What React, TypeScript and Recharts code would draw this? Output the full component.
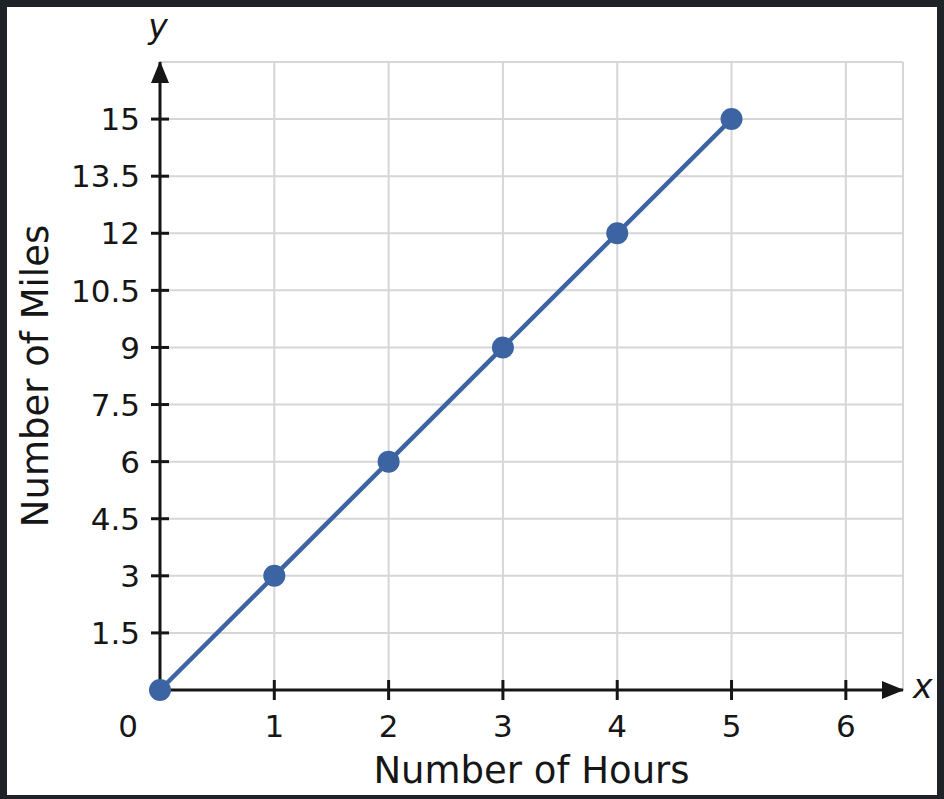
import React from 'react';
import { LineChart, Line, XAxis, YAxis, CartesianGrid, Label } from 'recharts';

// values
const hours = [0, 1, 2, 3, 4, 5];
const miles = [0, 3, 6, 9, 12, 15];
const xTicks = [0, 1, 2, 3, 4, 5, 6];
const yTicks = [1.5, 3, 4.5, 6, 7.5, 9, 10.5, 12, 13.5, 15];
const xDomain = [0, 6.5];
const yDomain = [0, 16.5];
const xTitle = 'Number of Hours';
const yTitle = 'Number of Miles';

const data = hours.map((h, i) => ({ hours: h, miles: miles[i] }));

const INK = '#161616';
const BLUE = '#3d64a2';
const FONT = '"DejaVu Sans", sans-serif';

const XTick = (props: any) => {
  const { x, y, payload } = props;
  const isOrigin = payload.value === 0;
  return (
    <g>
      {!isOrigin && <line x1={x} y1={y - 10} x2={x} y2={y + 10} stroke={INK} strokeWidth={3} />}
      <text x={isOrigin ? x - 32 : x} y={y + 47} textAnchor="middle" fontSize={31} fill={INK} fontFamily={FONT}>
        {payload.value}
      </text>
    </g>
  );
};

const YTick = (props: any) => {
  const { x, y, payload } = props;
  return (
    <g>
      <line x1={x - 9} y1={y} x2={x + 9} y2={y} stroke={INK} strokeWidth={3} />
      <text x={x - 20} y={y} dy="0.36em" textAnchor="end" fontSize={31} fill={INK} fontFamily={FONT}>
        {payload.value}
      </text>
    </g>
  );
};

export default function App() {
  return (
    <div style={{ position: 'absolute', left: 0, top: 0, width: 944, height: 799, background: '#1f2327' }}>
      <div style={{ position: 'absolute', left: 7, top: 7, width: 930, height: 788, background: '#fff' }}>
        <LineChart width={930} height={788} data={data} margin={{ top: 55, right: 34, bottom: 0, left: 0 }}>
          <defs>
            <marker
              id="arrowHead"
              viewBox="0 0 22 18"
              refX="21"
              refY="9"
              markerWidth="22"
              markerHeight="18"
              markerUnits="userSpaceOnUse"
              orient="auto-start-reverse"
            >
              <path d="M0,0 L22,9 L0,18 Z" fill={INK} />
            </marker>
          </defs>
          <CartesianGrid stroke="#d6d6d6" strokeWidth={2} />
          <XAxis
            type="number"
            dataKey="hours"
            domain={xDomain}
            ticks={xTicks}
            interval={0}
            height={105}
            tickSize={0}
            tickMargin={0}
            tickLine={false}
            tick={<XTick />}
            axisLine={{ stroke: INK, strokeWidth: 3, markerEnd: 'url(#arrowHead)' }}
          >
            <Label
              content={(p: any) => (
                <text
                  x={p.viewBox.x + p.viewBox.width / 2}
                  y={p.viewBox.y + 93}
                  textAnchor="middle"
                  fontSize={37}
                  fill={INK}
                  fontFamily={FONT}
                >
                  {xTitle}
                </text>
              )}
            />
            <Label
              content={(p: any) => (
                <text
                  x={p.viewBox.x + p.viewBox.width + 10}
                  y={p.viewBox.y + 8}
                  textAnchor="start"
                  fontSize={33}
                  fontStyle="italic"
                  fill={INK}
                  fontFamily={FONT}
                >
                  x
                </text>
              )}
            />
          </XAxis>
          <YAxis
            type="number"
            dataKey="miles"
            domain={yDomain}
            ticks={yTicks}
            interval={0}
            width={153}
            tickSize={0}
            tickMargin={0}
            tickLine={false}
            tick={<YTick />}
            axisLine={{ stroke: INK, strokeWidth: 3, markerStart: 'url(#arrowHead)' }}
          >
            <Label
              content={(p: any) => {
                const lx = p.viewBox.x + 41;
                const ly = p.viewBox.y + p.viewBox.height / 2;
                return (
                  <text
                    x={lx}
                    y={ly}
                    transform={`rotate(-90, ${lx}, ${ly})`}
                    textAnchor="middle"
                    fontSize={37}
                    fill={INK}
                    fontFamily={FONT}
                  >
                    {yTitle}
                  </text>
                );
              }}
            />
            <Label
              content={(p: any) => (
                <text
                  x={p.viewBox.x + p.viewBox.width - 2}
                  y={p.viewBox.y - 24}
                  textAnchor="middle"
                  fontSize={33}
                  fontStyle="italic"
                  fill={INK}
                  fontFamily={FONT}
                >
                  y
                </text>
              )}
            />
          </YAxis>
          <Line
            type="linear"
            dataKey="miles"
            stroke={BLUE}
            strokeWidth={4.5}
            dot={{ r: 11, fill: BLUE, stroke: 'none' }}
            activeDot={false}
            isAnimationActive={false}
          />
        </LineChart>
      </div>
    </div>
  );
}
